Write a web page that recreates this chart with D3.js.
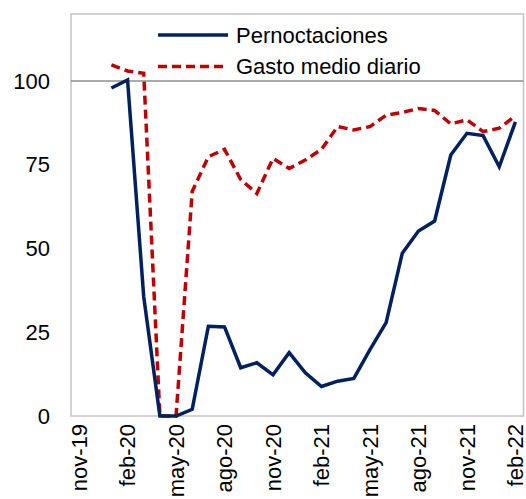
<!DOCTYPE html>
<html>
<head>
<meta charset="utf-8">
<script src="https://cdn.jsdelivr.net/npm/d3@7"></script>
<style>
  body { margin: 0; background: #fff; }
  text { font-family: "Liberation Sans", Arial, sans-serif; fill: #000; }
</style>
</head>
<body>
<div id="chart"></div>
<script>
// Months on the axis (Spanish abbreviations)
const months = ['nov-19', 'dic-19', 'ene-20', 'feb-20', 'mar-20', 'abr-20', 'may-20', 'jun-20',
    'jul-20', 'ago-20', 'sep-20', 'oct-20', 'nov-20', 'dic-20', 'ene-21', 'feb-21', 'mar-21',
    'abr-21', 'may-21', 'jun-21', 'jul-21', 'ago-21', 'sep-21', 'oct-21', 'nov-21', 'dic-21',
    'ene-22', 'feb-22'];

// Series values (index, 100 = reference level)
const pernoctaciones = [null, null, 97.9, 100.3, 35.6, 0, 0, 2, 26.8, 26.6, 14.4, 15.9, 12.3,
    18.9, 12.9, 8.8, 10.4, 11.2, 19.8, 27.9, 48.6, 55.2, 58.2, 77.9, 84.4, 83.7, 74.4, 87.8];
const gastoMedio = [null, null, 104.8, 103, 102.3, 0, 0, 67, 77.4, 79.6, 70.6, 66.4, 76.9,
    73.9, 76.4, 79.6, 86.4, 85.4, 86.4, 89.8, 90.6, 91.8, 91.2, 87.2, 88.4, 84.9, 85.9, 89.6];

const yTicks = [0, 25, 50, 75, 100];
const xLabels = ['nov-19', 'feb-20', 'may-20', 'ago-20', 'nov-20', 'feb-21', 'may-21',
    'ago-21', 'nov-21', 'feb-22'];

const seriesNames = ['Pernoctaciones', 'Gasto medio diario'];

const W = 526, H = 499;
const plot = { left: 71, right: 523.5, top: 14, bottom: 416 };

const svg = d3.select('#chart').append('svg')
    .attr('width', W)
    .attr('height', H);

const x = d3.scaleBand().domain(months).range([plot.left, plot.right]);
const y = d3.scaleLinear().domain([0, 120]).range([plot.bottom, plot.top]);
const cx = m => x(m) + x.bandwidth() / 2;

// Frame
svg.append('rect')
    .attr('x', plot.left).attr('y', plot.top)
    .attr('width', plot.right - plot.left).attr('height', plot.bottom - plot.top)
    .attr('fill', 'none')
    .attr('stroke', '#c4c4c4')
    .attr('stroke-width', 1.5);

// Reference line at 100
svg.append('line')
    .attr('x1', plot.left).attr('x2', plot.right)
    .attr('y1', y(100)).attr('y2', y(100))
    .attr('stroke', '#8f8f8f')
    .attr('stroke-width', 1.5);

// Y tick labels
svg.selectAll('.ytick')
    .data(yTicks)
    .join('text')
    .attr('class', 'ytick')
    .attr('x', 50)
    .attr('y', d => y(d))
    .attr('dy', '0.35em')
    .attr('text-anchor', 'end')
    .style('font-size', '22px')
    .text(d => d);

// X tick labels, rotated
svg.selectAll('.xtick')
    .data(xLabels)
    .join('text')
    .attr('class', 'xtick')
    .attr('transform', d => `translate(${cx(d)},424) rotate(-90)`)
    .attr('dy', '0.35em')
    .attr('text-anchor', 'end')
    .style('font-size', '22px')
    .text(d => d);

const line = d3.line()
    .defined(d => d.v !== null)
    .x(d => cx(d.m))
    .y(d => y(d.v));

const toPoints = arr => arr.map((v, i) => ({ m: months[i], v }));

svg.append('path')
    .datum(toPoints(gastoMedio))
    .attr('d', line)
    .attr('fill', 'none')
    .attr('stroke', '#c00000')
    .attr('stroke-width', 3.5)
    .attr('stroke-dasharray', '9,5');

svg.append('path')
    .datum(toPoints(pernoctaciones))
    .attr('d', line)
    .attr('fill', 'none')
    .attr('stroke', '#002060')
    .attr('stroke-width', 3.5);

// Legend
const legend = svg.append('g');
const legendStyles = [
    { color: '#002060', dash: null },
    { color: '#c00000', dash: '9,5' }
];
seriesNames.forEach((name, i) => {
    const ly = 35 + i * 31.5;
    legend.append('line')
        .attr('x1', 158).attr('x2', 228)
        .attr('y1', ly).attr('y2', ly)
        .attr('stroke', legendStyles[i].color)
        .attr('stroke-width', 3.5)
        .attr('stroke-dasharray', legendStyles[i].dash);
    legend.append('text')
        .attr('x', 236)
        .attr('y', ly)
        .attr('dy', '0.35em')
        .style('font-size', '22px')
        .text(name);
});
</script>
</body>
</html>
